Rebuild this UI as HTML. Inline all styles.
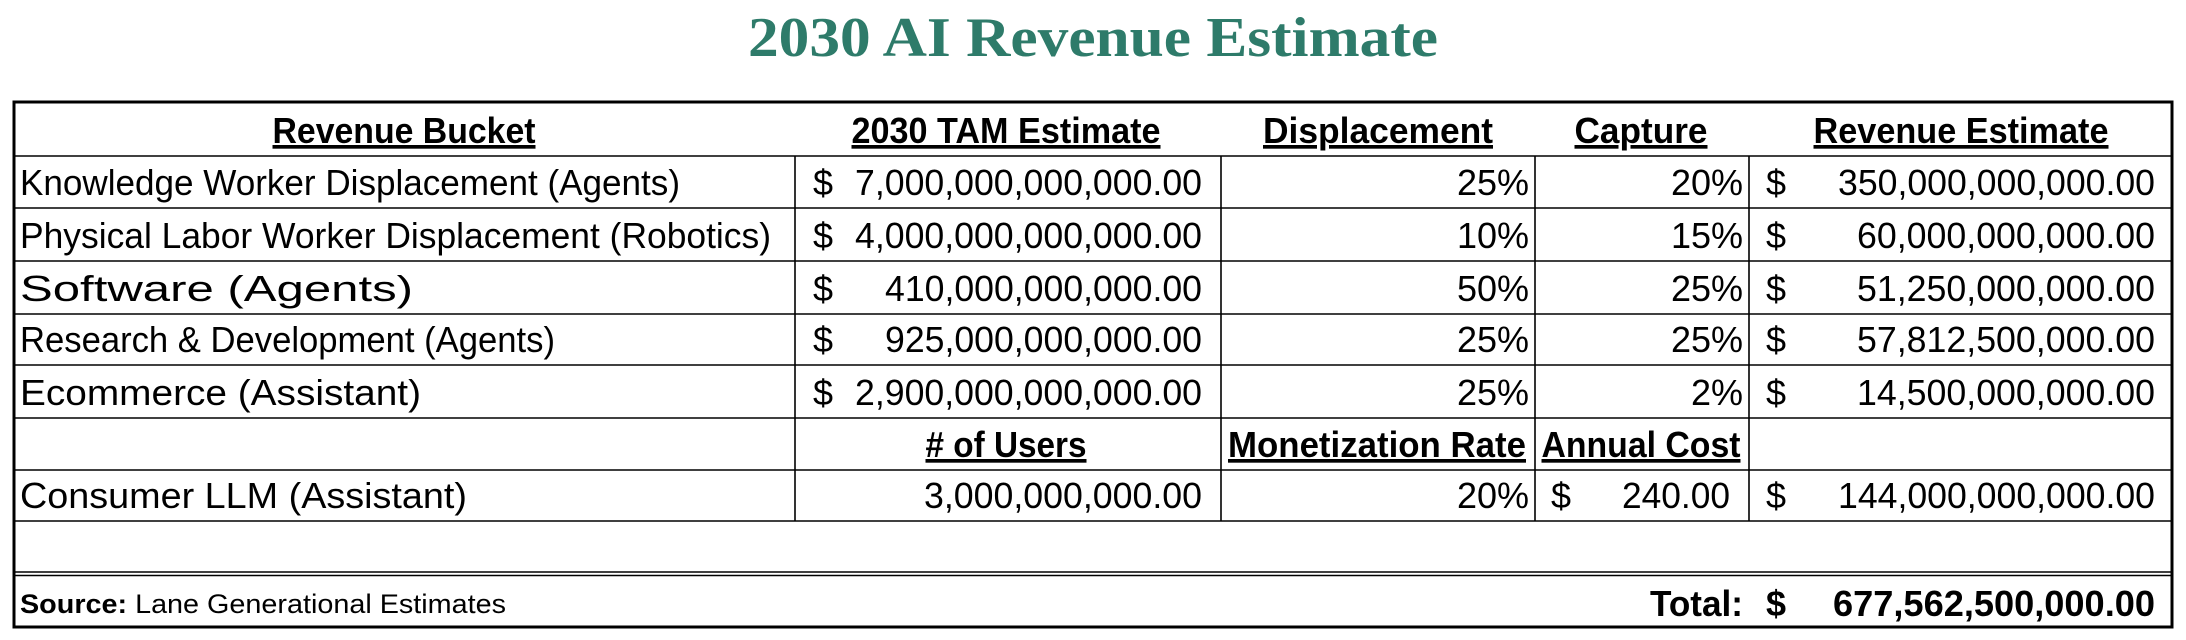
<!DOCTYPE html>
<html><head><meta charset="utf-8"><style>
html,body{margin:0;padding:0;background:#fff;width:2186px;height:640px;overflow:hidden}
svg{display:block}
text{font-family:"Liberation Sans Narrow","Liberation Sans",sans-serif;font-size:36px;fill:#000}
.b{font-weight:bold}
.t{font-family:"Liberation Serif",serif;font-weight:bold;font-size:56px;fill:#2e7b6a}
</style></head><body>
<svg width="2186" height="640" viewBox="0 0 2186 640" xmlns="http://www.w3.org/2000/svg">
<text class="t" x="1093" y="56" text-anchor="middle" textLength="690" lengthAdjust="spacingAndGlyphs">2030 AI Revenue Estimate</text>
<g stroke="#000" fill="none">
<rect x="14" y="102" width="2158" height="525" stroke-width="3"/>
<g stroke-width="1.6">
<line x1="14" y1="156" x2="2172" y2="156"/>
<line x1="14" y1="208" x2="2172" y2="208"/>
<line x1="14" y1="261" x2="2172" y2="261"/>
<line x1="14" y1="314" x2="2172" y2="314"/>
<line x1="14" y1="365" x2="2172" y2="365"/>
<line x1="14" y1="418" x2="2172" y2="418"/>
<line x1="14" y1="470" x2="2172" y2="470"/>
<line x1="14" y1="521" x2="2172" y2="521"/>
<line x1="14" y1="572" x2="2172" y2="572"/>
<line x1="14" y1="575.5" x2="2172" y2="575.5"/>
<line x1="795" y1="156" x2="795" y2="521"/>
<line x1="1221" y1="156" x2="1221" y2="521"/>
<line x1="1535" y1="156" x2="1535" y2="521"/>
<line x1="1749" y1="156" x2="1749" y2="521"/>
</g></g>
<g class="b" text-decoration="underline">
<text class="b" x="404" y="143" text-anchor="middle" textLength="263" lengthAdjust="spacingAndGlyphs" text-decoration="underline">Revenue Bucket</text>
<text class="b" x="1006" y="143" text-anchor="middle" textLength="309" lengthAdjust="spacingAndGlyphs" text-decoration="underline">2030 TAM Estimate</text>
<text class="b" x="1378" y="143" text-anchor="middle" textLength="230" lengthAdjust="spacingAndGlyphs" text-decoration="underline">Displacement</text>
<text class="b" x="1641" y="143" text-anchor="middle" textLength="133" lengthAdjust="spacingAndGlyphs" text-decoration="underline">Capture</text>
<text class="b" x="1961" y="143" text-anchor="middle" textLength="295" lengthAdjust="spacingAndGlyphs" text-decoration="underline">Revenue Estimate</text>
<text class="b" x="1006" y="457" text-anchor="middle" textLength="161" lengthAdjust="spacingAndGlyphs" text-decoration="underline"># of Users</text>
<text class="b" x="1377" y="457" text-anchor="middle" textLength="298" lengthAdjust="spacingAndGlyphs" text-decoration="underline">Monetization Rate</text>
<text class="b" x="1641" y="457" text-anchor="middle" textLength="199" lengthAdjust="spacingAndGlyphs" text-decoration="underline">Annual Cost</text>
</g>
<text x="20" y="195" textLength="660" lengthAdjust="spacingAndGlyphs">Knowledge Worker Displacement (Agents)</text>
<text x="20" y="248" textLength="751" lengthAdjust="spacingAndGlyphs">Physical Labor Worker Displacement (Robotics)</text>
<text x="20" y="301" textLength="393" lengthAdjust="spacingAndGlyphs">Software (Agents)</text>
<text x="20" y="352" textLength="535" lengthAdjust="spacingAndGlyphs">Research &amp; Development (Agents)</text>
<text x="20" y="405" textLength="401" lengthAdjust="spacingAndGlyphs">Ecommerce (Assistant)</text>
<text x="20" y="508" textLength="447" lengthAdjust="spacingAndGlyphs">Consumer LLM (Assistant)</text>
<g>
<text x="813" y="195">$</text><text x="813" y="248">$</text><text x="813" y="301">$</text><text x="813" y="352">$</text><text x="813" y="405">$</text>
<text x="1766" y="195">$</text><text x="1766" y="248">$</text><text x="1766" y="301">$</text><text x="1766" y="352">$</text><text x="1766" y="405">$</text><text x="1766" y="508">$</text><text x="1551" y="508">$</text>
</g>
<g text-anchor="end">
<text x="1202" y="195" textLength="347" lengthAdjust="spacingAndGlyphs">7,000,000,000,000.00</text>
<text x="1202" y="248" textLength="347" lengthAdjust="spacingAndGlyphs">4,000,000,000,000.00</text>
<text x="1202" y="301" textLength="317" lengthAdjust="spacingAndGlyphs">410,000,000,000.00</text>
<text x="1202" y="352" textLength="317" lengthAdjust="spacingAndGlyphs">925,000,000,000.00</text>
<text x="1202" y="405" textLength="347" lengthAdjust="spacingAndGlyphs">2,900,000,000,000.00</text>
<text x="1202" y="508" textLength="278" lengthAdjust="spacingAndGlyphs">3,000,000,000.00</text>
<text x="1529" y="195">25%</text><text x="1529" y="248">10%</text><text x="1529" y="301">50%</text><text x="1529" y="352">25%</text><text x="1529" y="405">25%</text><text x="1529" y="508">20%</text>
<text x="1743" y="195">20%</text><text x="1743" y="248">15%</text><text x="1743" y="301">25%</text><text x="1743" y="352">25%</text><text x="1743" y="405">2%</text>
<text x="1730" y="508" textLength="108" lengthAdjust="spacingAndGlyphs">240.00</text>
<text x="2155" y="195" textLength="317" lengthAdjust="spacingAndGlyphs">350,000,000,000.00</text>
<text x="2155" y="248" textLength="298" lengthAdjust="spacingAndGlyphs">60,000,000,000.00</text>
<text x="2155" y="301" textLength="298" lengthAdjust="spacingAndGlyphs">51,250,000,000.00</text>
<text x="2155" y="352" textLength="298" lengthAdjust="spacingAndGlyphs">57,812,500,000.00</text>
<text x="2155" y="405" textLength="298" lengthAdjust="spacingAndGlyphs">14,500,000,000.00</text>
<text x="2155" y="508" textLength="317" lengthAdjust="spacingAndGlyphs">144,000,000,000.00</text>
<text class="b" x="2155" y="616" textLength="322" lengthAdjust="spacingAndGlyphs">677,562,500,000.00</text>
<text class="b" x="1743" y="616" textLength="93" lengthAdjust="spacingAndGlyphs">Total:</text>
</g>
<text class="b" x="1766" y="616">$</text>
<text x="20" y="613" style="font-size:27px" textLength="486" lengthAdjust="spacingAndGlyphs"><tspan class="b">Source:</tspan> Lane Generational Estimates</text>
</svg>
</body></html>
